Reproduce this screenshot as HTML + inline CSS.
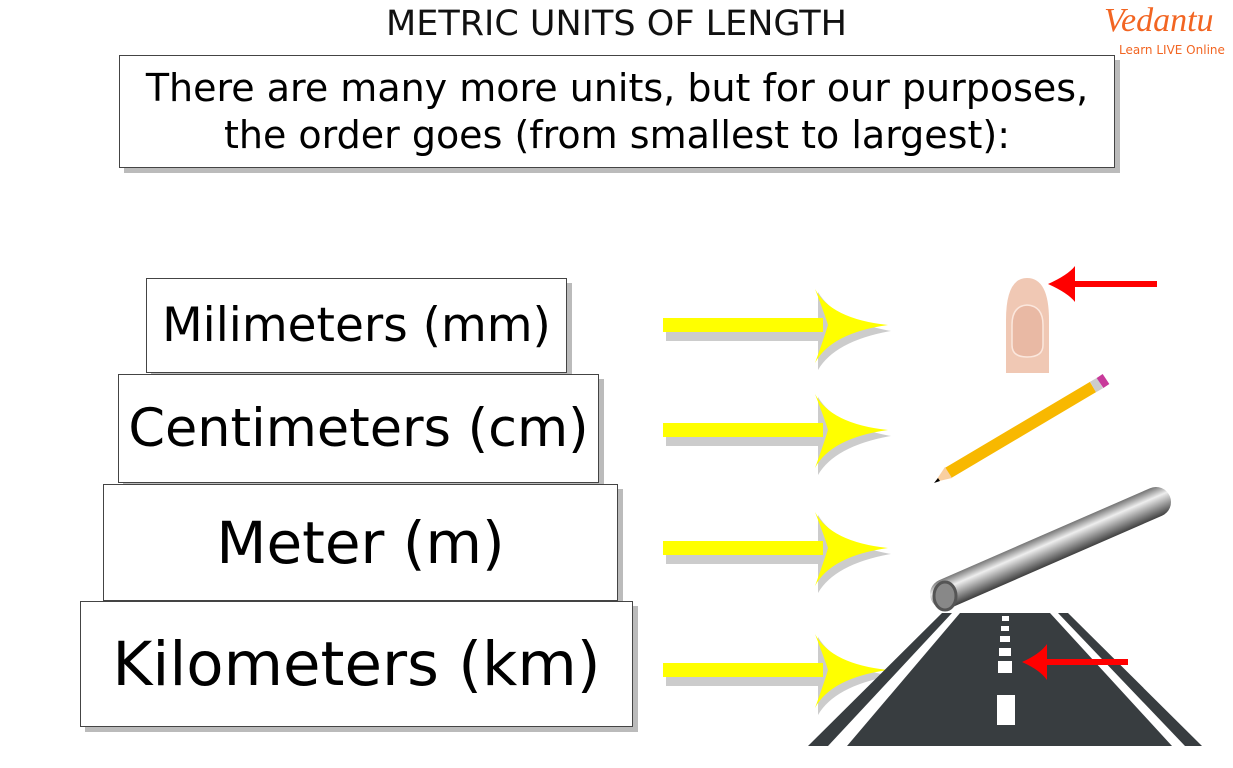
<!DOCTYPE html>
<html><head><meta charset="utf-8"><style>
body{margin:0;width:1233px;height:768px;background:#fff;position:relative;overflow:hidden;font-family:"DejaVu Sans","Liberation Sans",sans-serif}
.b{position:absolute;background:#fff;border:1px solid #444;box-shadow:5px 5px 0 #bbb;display:flex;align-items:center;justify-content:center;color:#000;white-space:nowrap;box-sizing:border-box}
</style></head><body>
<div style="position:absolute;left:0;width:1233px;top:4px;text-align:center;font-size:35px;color:#111">METRIC UNITS OF LENGTH</div>
<div style="position:absolute;left:1104px;top:2px;color:#f26522;font-size:34px;font-style:italic;font-family:'Liberation Serif',serif">Vedantu</div>
<div style="position:absolute;left:1119px;top:43px;color:#f26522;font-size:12px">Learn LIVE Online</div>
<div class="b" style="left:119px;top:55px;width:996px;height:113px;font-size:38px;line-height:47px;text-align:center;flex-direction:column">There are many more units, but for our purposes,<br>the order goes (from smallest to largest):</div>
<div class="b" style="left:146px;top:278px;width:421px;height:95px;font-size:47px">Milimeters (mm)</div>
<div class="b" style="left:118px;top:374px;width:481px;height:109px;font-size:52.5px">Centimeters (cm)</div>
<div class="b" style="left:103px;top:484px;width:515px;height:117px;font-size:58px">Meter (m)</div>
<div class="b" style="left:80px;top:601px;width:553px;height:126px;font-size:61px">Kilometers (km)</div>
<svg width="1233" height="768" style="position:absolute;left:0;top:0">
<defs>
<g id="ya">
<rect x="3" y="2" width="160" height="14" fill="#ccc"/>
<path d="M155,-33 Q172,-4 228,6 Q172,16 155,45" fill="#ccc"/>
<rect x="0" y="-7" width="160" height="14" fill="#ff0"/>
<path d="M152,-36 Q168,-6 225,0 Q168,8 152,38 Q162,10 165,0 Q162,-10 152,-36Z" fill="#ff0"/></g>
<linearGradient id="pg" gradientUnits="userSpaceOnUse" x1="1044" y1="533" x2="1057" y2="563"><stop offset="0" stop-color="#666"/><stop offset="0.35" stop-color="#eee"/><stop offset="1" stop-color="#333"/></linearGradient>
</defs>
<use href="#ya" x="663" y="325"/>
<use href="#ya" x="663" y="430"/>
<use href="#ya" x="663" y="548"/>
<use href="#ya" x="663" y="670"/>
<path d="M1006,373 V320 Q1006,278 1027,278 Q1049,278 1049,320 V373Z" fill="#f0c8b4"/>
<path d="M1012,325 Q1012,306 1027,305 Q1043,306 1043,325 V345 Q1043,357 1027,357 Q1012,357 1012,345Z" fill="#e9b9a4" stroke="#fbe7dd" stroke-width="1.5"/>
<line x1="1157" y1="284" x2="1070" y2="284" stroke="#f00" stroke-width="6"/>
<path d="M1048,284 Q1068,275 1075,266 L1075,302 Q1068,293 1048,284Z" fill="#f00"/>
<line x1="948" y1="473" x2="1093" y2="387" stroke="#f8b800" stroke-width="12"/>
<line x1="1093" y1="387" x2="1100" y2="383" stroke="#ccc" stroke-width="12"/>
<line x1="1100" y1="383" x2="1106" y2="379" stroke="#c8399a" stroke-width="12"/>
<path d="M935,482 L945,467 L952,478Z" fill="#f9cfa0"/>
<path d="M934,483 L938,478 L940,481Z" fill="#000"/>
<line x1="945" y1="594" x2="1156" y2="502" stroke="url(#pg)" stroke-width="30" stroke-linecap="round"/>
<ellipse cx="945" cy="596" rx="11" ry="14" fill="#888" stroke="#555" stroke-width="3"/>
<path d="M960,613 H1050 L1172,746 H847Z" fill="#383d40"/>
<path d="M942,613 H952 L828,746 H808Z" fill="#383d40"/>
<path d="M1058,613 H1068 L1202,746 H1185Z" fill="#383d40"/>
<g fill="#fff"><rect x="1002" y="616" width="7" height="5"/><rect x="1001" y="626" width="8" height="5"/><rect x="1000" y="636" width="10" height="6"/><rect x="999" y="648" width="12" height="8"/><rect x="998" y="661" width="14" height="12"/><rect x="997" y="695" width="18" height="30"/></g>
<line x1="1128" y1="662" x2="1043" y2="662" stroke="#f00" stroke-width="6"/>
<path d="M1022,662 Q1040,654 1047,644 L1047,680 Q1040,670 1022,662Z" fill="#f00"/>
</svg>
</body></html>
